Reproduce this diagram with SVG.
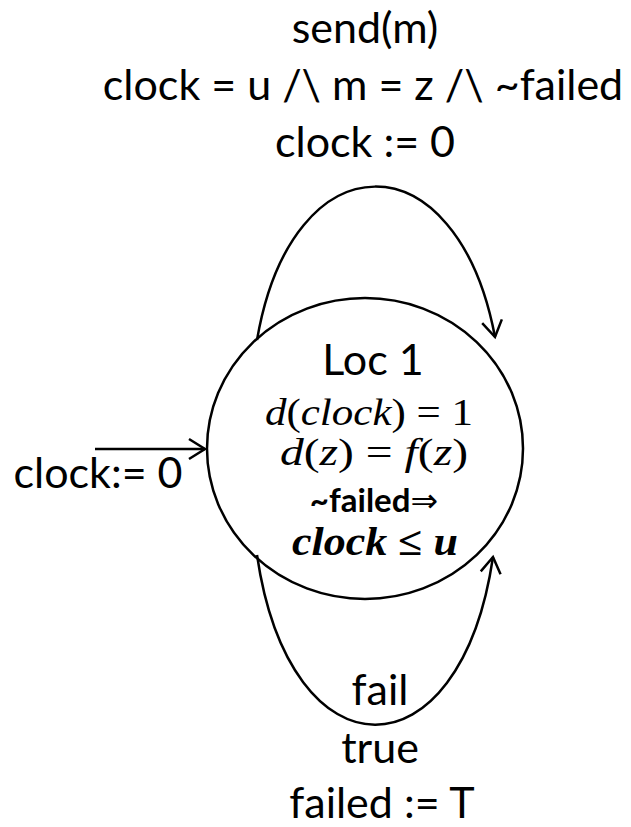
<svg xmlns="http://www.w3.org/2000/svg" width="631" height="827" viewBox="0 0 631 827">
<style>
.lbl{font-family:Lato,"Liberation Sans",sans-serif;font-size:43px;fill:#000;text-anchor:middle}
.m{font-family:"Liberation Serif","DejaVu Serif",serif;font-size:38px;fill:#000;text-anchor:middle}
.i{font-style:italic}
.edge{fill:none;stroke:#000;stroke-width:2.5}
</style>
<defs>
<marker id="arr" markerUnits="userSpaceOnUse" markerWidth="40" markerHeight="40" refX="0" refY="0" viewBox="-20 -20 40 40" orient="auto" overflow="visible">
<path d="M-16,-10 L0,0 L-16,10" fill="none" stroke="#000" stroke-width="2.5"/>
</marker>
</defs>
<rect width="631" height="827" fill="#fff"/>
<g id="connectors">
<path class="edge" d="M257,340 C292,136 457,136 495,337" marker-end="url(#arr)"/>
<path class="edge" d="M257,555 C290,781 460,781 493,557" marker-end="url(#arr)"/>
<path class="edge" d="M95,449 L205,449" marker-end="url(#arr)"/>
</g>
<g id="loc1">
<ellipse cx="365" cy="448.5" rx="158" ry="150.5" fill="none" stroke="#000" stroke-width="2.5"/>
<text class="lbl" x="373" y="375">Loc 1</text>
<text class="m" x="369" y="425" textLength="208" lengthAdjust="spacingAndGlyphs"><tspan class="i">d</tspan>(<tspan class="i">clock</tspan>) = 1</text>
<text class="m" x="374" y="465" textLength="188" lengthAdjust="spacingAndGlyphs"><tspan class="i">d</tspan>(<tspan class="i">z</tspan>) = <tspan class="i">f</tspan>(<tspan class="i">z</tspan>)</text>
<text x="374" y="512" style="font-family:Lato,'Liberation Sans',sans-serif;font-size:33px;font-weight:bold;text-anchor:middle">~failed<tspan style="font-family:'DejaVu Sans',sans-serif;font-weight:normal">⇒</tspan></text>
<text class="m" x="375" y="555" style="font-weight:bold;font-size:40px" textLength="166" lengthAdjust="spacingAndGlyphs"><tspan class="i">clock</tspan> ≤ <tspan class="i">u</tspan></text>
</g>
<g id="labels">
<text class="lbl" x="365" y="43">send(m)</text>
<text class="lbl" x="363" y="100">clock = u /\ m = z /\ ~failed</text>
<text class="lbl" x="365" y="157">clock := 0</text>
<text class="lbl" x="98" y="488">clock:= 0</text>
<text class="lbl" x="380" y="705">fail</text>
<text class="lbl" x="380" y="763">true</text>
<text class="lbl" x="382" y="818">failed := T</text>
</g>
</svg>
